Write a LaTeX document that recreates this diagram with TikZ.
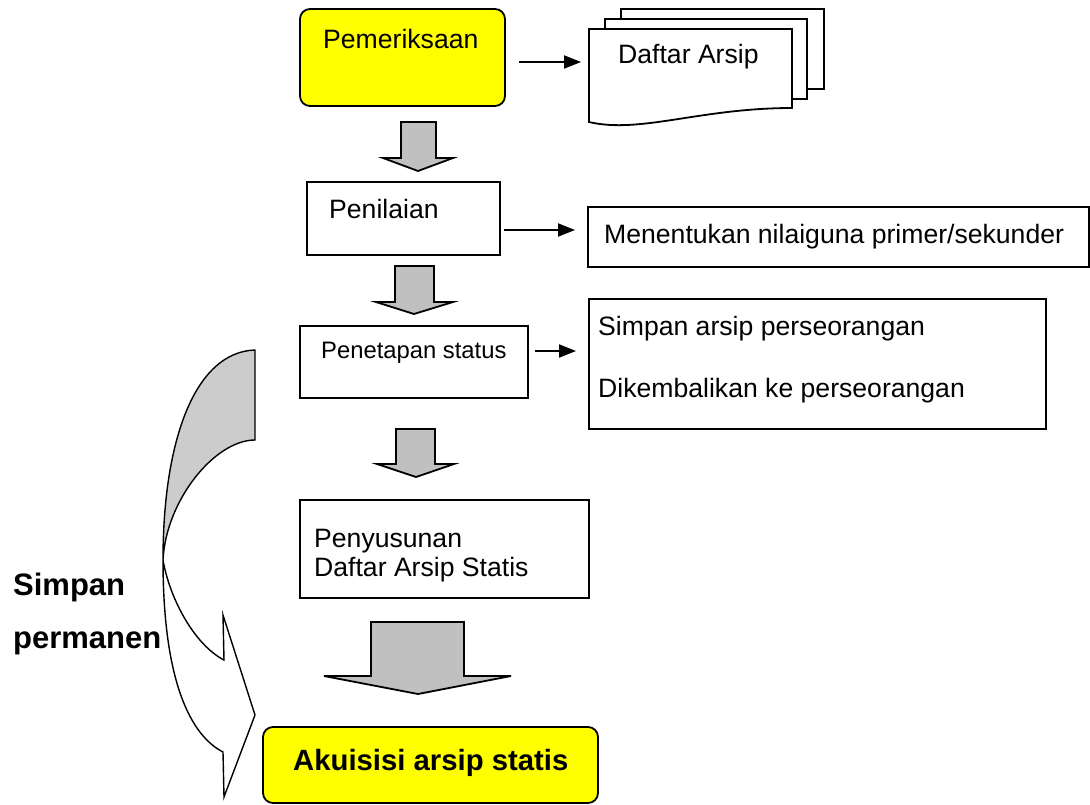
\documentclass[tikz,border=0pt]{standalone}
\usepackage{fontspec}
\setmainfont{Liberation Sans}
\usetikzlibrary{arrows.meta}
\definecolor{silv}{HTML}{C0C0C0}
\definecolor{cgray}{HTML}{CCCCCC}
\definecolor{yel}{HTML}{FFFF00}
\begin{document}
\begin{tikzpicture}[x=1pt,y=-1pt,line join=miter,
  box/.style={draw,line width=1.8pt,fill=white,inner sep=0pt},
  ybox/.style={box,fill=yel,rounded corners=10pt},
  lbl/.style={anchor=base west,inner sep=0pt,font=\fontsize{26.6}{30}\selectfont},
  slbl/.style={anchor=base west,inner sep=0pt,font=\fontsize{23.8}{28}\selectfont},
  blbl/.style={anchor=base west,inner sep=0pt,font=\fontsize{29.3}{34}\selectfont\bfseries},
  bblbl/.style={anchor=base west,inner sep=0pt,font=\fontsize{31}{36}\selectfont\bfseries},
  blk/.style={draw,line width=1.8pt,fill=silv},
  doc/.style={draw,line width=1.8pt,fill=white},
  curv/.style={draw,line width=1.4pt},
  arr/.style={line width=2pt,-{Triangle[length=17pt,width=13pt]}}
]
\useasboundingbox (0,0) rectangle (1090,804);

% main boxes
\node[ybox,minimum width=205pt,minimum height=97pt] (pem) at (402.5,57.5) {};
\node[box,minimum width=193pt,minimum height=73pt] (pen) at (403.5,218.5) {};
\node[box,minimum width=228pt,minimum height=72pt] (pst) at (414,362) {};
\node[box,minimum width=289pt,minimum height=98pt] (pny) at (444.5,549) {};
\node[ybox,minimum width=335pt,minimum height=76pt] (aku) at (430.5,765) {};

% right boxes
\node[box,minimum width=501pt,minimum height=60pt] (men) at (838.5,237) {};
\node[box,minimum width=457pt,minimum height=130pt] (sim) at (817.5,364) {};

% document stack
\draw[doc] (621,9) rectangle (824,89);
\draw[doc] (605,19) rectangle (807,99);
\draw[doc] (589,29) -- (792,29) -- (792,108)
  .. controls (700,108) and (640,134) .. (589,122) -- cycle;
\coordinate (daf) at (589,62);

% texts
\node[lbl] at (323,48) {Pemeriksaan};
\node[lbl] at (618,63) {Daftar Arsip};
\node[lbl] at (329,218) {Penilaian};
\node[lbl] at (604,243) {Menentukan nilaiguna primer/sekunder};
\node[slbl] at (321,358) {Penetapan status};
\node[lbl] at (598,335) {Simpan arsip perseorangan};
\node[lbl] at (598,397) {Dikembalikan ke perseorangan};
\node[lbl] at (314,547) {Penyusunan};
\node[lbl] at (314,576) {Daftar Arsip Statis};
\node[blbl] at (293,770) {Akuisisi arsip statis};
\node[bblbl] at (13,595) {Simpan};
\node[bblbl] at (13,648) {permanen};

% thin arrows
\coordinate (a1s) at (519,62); \coordinate (a1e) at (581,62);
\coordinate (a2s) at (504,230); \coordinate (a2e) at (575,230);
\coordinate (a3s) at (535,351); \coordinate (a3e) at (576,351);
\draw[arr] (a1s) -- (a1e);
\draw[arr] (a2s) -- (a2e);
\draw[arr] (a3s) -- (a3e);

% block arrows
\draw[blk] (401,122) -- (436,122) -- (436,158) -- (453,158) -- (418,171) -- (383,158) -- (401,158) -- cycle;
\draw[blk] (395,266) -- (434,266) -- (434,302) -- (453,302) -- (414,314) -- (376,302) -- (395,302) -- cycle;
\draw[blk] (396,429) -- (435,429) -- (435,464) -- (454,464) -- (416,477) -- (377,464) -- (396,464) -- cycle;
\draw[blk] (371,622) -- (464,622) -- (464,676) -- (511,676) -- (418,694) -- (324,676) -- (371,676) -- cycle;

% curved arrow
\draw[curv,fill=cgray] (255,350) .. controls (195,352) and (163,440) .. (163,560)
  .. controls (166,500) and (215,440) .. (255,440) -- cycle;
\draw[curv,fill=white] (163,560) .. controls (163,680) and (190,735) .. (223,752)
  -- (224,797) -- (255,715) -- (223,615) -- (224,660)
  .. controls (195,645) and (170,600) .. (163,560);
\end{tikzpicture}
\end{document}
